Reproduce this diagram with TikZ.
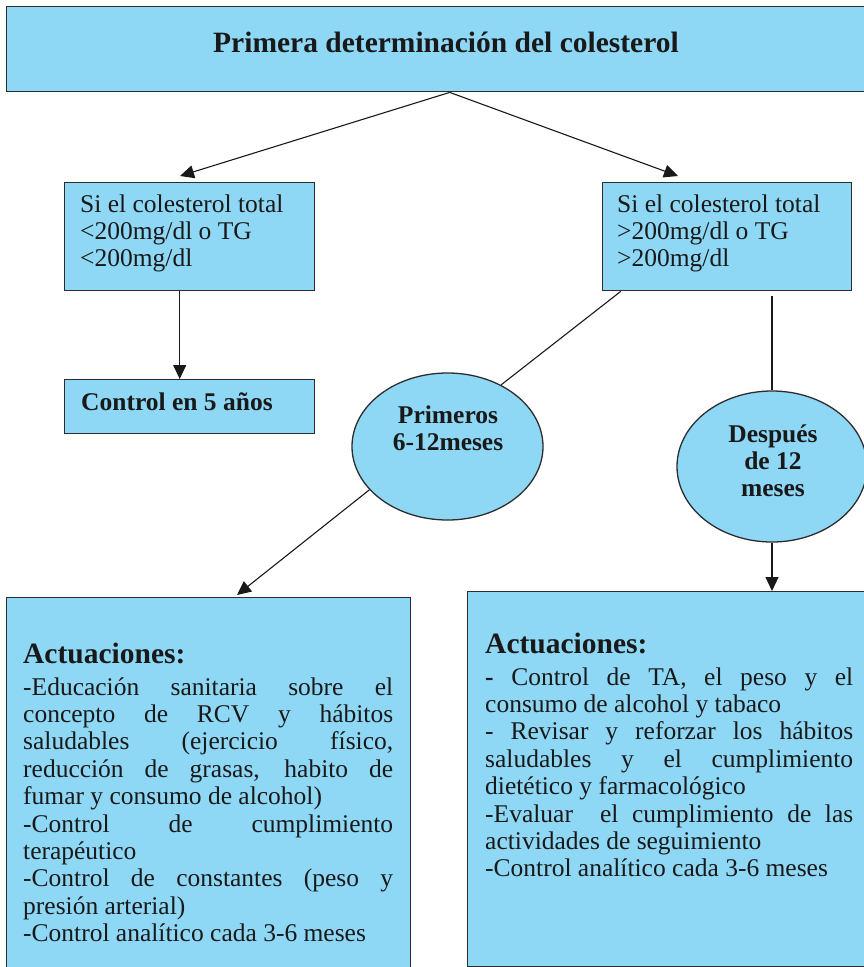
\documentclass[tikz,border=0pt]{standalone}
\usepackage{fontspec}
\setmainfont{Liberation Serif}
\usetikzlibrary{arrows.meta,shapes.geometric}
\definecolor{boxblue}{RGB}{142,216,246}
\definecolor{edgegray}{RGB}{45,45,45}
\newcommand{\bodyfont}{\fontsize{25.5}{27.4}\selectfont}
\newcommand{\headfont}{\fontsize{29.5}{32}\selectfont\bfseries}
\newcommand{\loosepar}{\tolerance=10000 \hbadness=10000 \hyphenpenalty=10000 }
\begin{document}
\begin{tikzpicture}[x=1pt,y=-1pt,
  box/.style={draw=edgegray, line width=1.4pt, fill=boxblue, rectangle, inner sep=0pt, anchor=north west},
  oval/.style={draw=edgegray, line width=1.3pt, fill=boxblue, ellipse, inner sep=0pt},
  txt/.style={inner sep=0pt, anchor=base west, text=black!90},
  conn/.style={draw=black!90, line width=1.1pt},
  arr/.style={conn, -{Triangle[length=14pt,width=13pt]}}]
\useasboundingbox (0,0) rectangle (864,967);

% boxes and ellipses
\node[box, minimum width=866pt, minimum height=85pt] (top) at (6,6) {};
\node[box, minimum width=250pt, minimum height=108pt] (s1) at (64,182) {};
\node[box, minimum width=249pt, minimum height=108pt] (s2) at (602,182) {};
\node[box, minimum width=250pt, minimum height=54pt] (ctl) at (64,379) {};
\node[oval, minimum width=191pt, minimum height=147pt] (p1) at (447.5,446.5) {};
\node[oval, minimum width=190pt, minimum height=151pt] (d1) at (772,466.5) {};
\node[box, minimum width=404pt, minimum height=380pt] (a1) at (6,597) {};
\node[box, minimum width=405pt, minimum height=375pt] (a2) at (467,591) {};

% texts
\node[txt, anchor=base, font=\headfont] (title) at (446,52) {Primera determinación del colesterol};
\node[txt] (s1t) at (80,212) {\parbox[t]{230pt}{\raggedright\bodyfont Si el colesterol total\\<200mg/dl o TG\\<200mg/dl}};
\node[txt] (s2t) at (617,212) {\parbox[t]{230pt}{\raggedright\bodyfont Si el colesterol total\\>200mg/dl o TG\\>200mg/dl}};
\node[txt, font=\bodyfont\bfseries] (ctlt) at (81,410) {Control en 5 años};
\node[txt, anchor=base] (p1t) at (448,423) {\parbox[t]{180pt}{\centering\bodyfont\bfseries Primeros\\6-12meses}};
\node[txt, anchor=base] (d1t) at (773,442) {\parbox[t]{180pt}{\centering\bodyfont\bfseries Después\\de 12\\meses}};

\node[txt, font=\headfont] (h1) at (23,663) {Actuaciones:};
\node[txt] (b1) at (23,695) {\parbox[t]{370pt}{\bodyfont\loosepar
-Educación sanitaria sobre el\linebreak concepto de RCV y hábitos\linebreak saludables (ejercicio físico,\linebreak reducción de grasas, habito de\linebreak fumar y consumo de alcohol)\\
-Control de cumplimiento\linebreak terapéutico\\
-Control de constantes (peso y\linebreak presión arterial)\\
-Control analítico cada 3-6 meses}};

\node[txt, font=\headfont] (h2) at (485,653) {Actuaciones:};
\node[txt] (b2) at (485,685) {\parbox[t]{368pt}{\bodyfont\loosepar
\textbf{-} Control de TA, el peso y el\linebreak consumo de alcohol y tabaco\\
- Revisar y reforzar los hábitos\linebreak saludables y el cumplimiento\linebreak dietético y farmacológico\\
-Evaluar\ \ el cumplimiento de las\linebreak actividades de seguimiento\\
-Control analítico cada 3-6 meses}};

% connectors
\coordinate (tipL) at (180,176);
\coordinate (tipR) at (678,176);
\coordinate (tipA) at (237,595);
\path (s2.south -| d1.north) ++(0,5) coordinate (d1top);
\draw[arr] ([xshift=10pt]top.south) -- (tipL);
\draw[arr] ([xshift=10pt]top.south) -- (tipR);
\draw[arr] ([xshift=-10pt]s1.south) -- ([xshift=-10pt]ctl.north);
\draw[conn] ([xshift=-106.5pt]s2.south) -- (p1.49);
\draw[arr] (p1.209) -- (tipA);
\draw[conn] (d1top) -- (d1.north);
\draw[arr] (d1.south) -- (d1.south |- a2.north);
\end{tikzpicture}
\end{document}
